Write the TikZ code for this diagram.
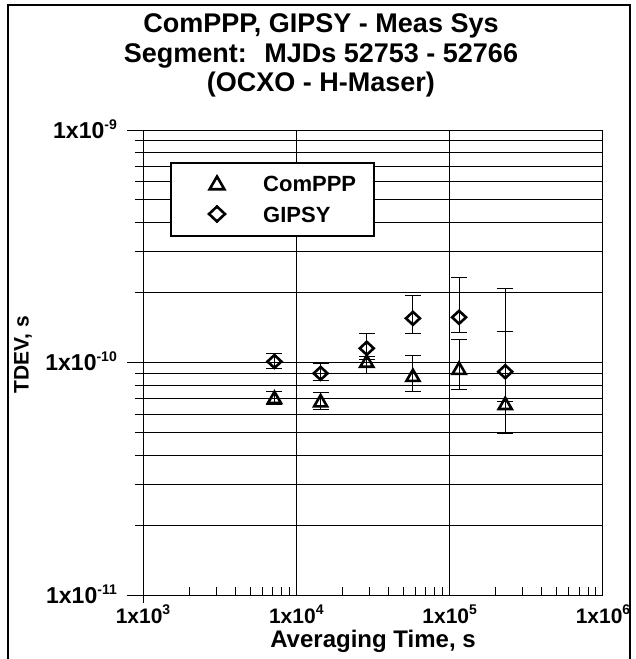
\documentclass[tikz,border=0pt]{standalone}
\usepackage{fontspec}
\setmainfont{Liberation Sans}
\usetikzlibrary{shapes.geometric}
\newcommand\ex[1]{\raisebox{9pt}{\fontsize{14}{14}\selectfont #1}}
\tikzset{
  grd/.style={line width=1pt},
  ebar/.style={line width=1pt},
  tri/.style={regular polygon, regular polygon sides=3, draw, line width=2.6pt, minimum size=15pt, inner sep=0pt},
  dia/.style={diamond, draw, line width=2.6pt, minimum width=15pt, minimum height=14pt, inner sep=0pt},
  ttl/.style={anchor=base, inner sep=0pt, font=\fontsize{27}{30}\selectfont\bfseries},
  lbl/.style={inner sep=0pt, font=\fontsize{21}{25}\selectfont\bfseries},
  leg/.style={anchor=base west, inner sep=0pt, font=\fontsize{22}{26}\selectfont\bfseries}
}
\begin{document}
\begin{tikzpicture}[x=1pt,y=-1pt]
\useasboundingbox (0,0) rectangle (635,659);
\draw[line width=2.7pt] (8,659) -- (8,5) -- (630,5) -- (630,659);
\node[ttl] (t1) at (321,32) {ComPPP, GIPSY - Meas Sys};
\node[ttl] (t2) at (321,62) {Segment: \ MJDs 52753 - 52766};
\node[ttl] (t3) at (321,91) {(OCXO - H-Maser)};
\begin{scope}[shift={(143,595)},x=153.33pt,y=232.5pt]
\foreach \d in {1,2,3} \draw[grd] (\d,0) -- (\d,2);
\draw[grd] (0,-0.034) -- (0,2);
\foreach \d in {0,1,2} \draw[grd] (-0.104,\d) -- (3,\d);
\foreach \d in {0,1} \foreach \m in {2,...,9}
  \draw[grd] (-0.052,{\d+log10(\m)}) -- (3,{\d+log10(\m)});
\foreach \d in {0,1,2} \foreach \m in {2,...,9}
  \draw[grd] ({\d+log10(\m)},0) -- ({\d+log10(\m)},0.034);
\foreach \t/\v/\lo/\hi [count=\i] in {7.2/10.1/9.44/10.88, 14.4/8.98/8.35/9.92,
    28.8/11.51/10.32/13.36, 57.6/15.49/13.27/19.38, 115.2/15.65/13.44/23.16, 230.4/9.13/6.78/20.85} {
  \draw[ebar] ({log10(\t)},{log10(\lo)}) -- ({log10(\t)},{log10(\hi)});
  \draw[ebar] ({log10(\t)-0.052},{log10(\lo)}) -- ++(0.104,0);
  \draw[ebar] ({log10(\t)-0.052},{log10(\hi)}) -- ++(0.104,0);
  \node[dia] (gp\i) at ({log10(\t)},{log10(\v)}) {};
}
\foreach \t/\v/\lo/\hi [count=\i] in {7.2/6.95/6.63/7.49, 14.4/6.72/6.31/7.44,
    28.8/9.95/8.98/10.59, 57.6/8.65/7.49/10.70, 115.2/9.28/7.67/12.62, 230.4/6.55/4.96/13.57} {
  \draw[ebar] ({log10(\t)},{log10(\lo)}) -- ({log10(\t)},{log10(\hi)});
  \draw[ebar] ({log10(\t)-0.052},{log10(\lo)}) -- ++(0.104,0);
  \draw[ebar] ({log10(\t)-0.052},{log10(\hi)}) -- ++(0.104,0);
  \node[tri] (cp\i) at ({log10(\t)},{log10(\v)}) {};
}
\end{scope}
\draw[line width=1.2pt,fill=white] (171,163) rectangle (374,236);
\node[tri,minimum size=17pt] (lt) at (217,185) {};
\node[dia,minimum width=17pt,minimum height=16pt] (ld) at (217,214) {};
\node[leg] (l1) at (263,191) {ComPPP};
\node[leg] (l2) at (263,222) {GIPSY};
\foreach \e/\yy [count=\i] in {-9/138,-10/370,-11/603}
  \node[lbl,anchor=base east,font=\fontsize{23}{27}\selectfont\bfseries] (yt\i) at (117,\yy) {1x10\ex{\e}};
\foreach \e/\xx [count=\i] in {3/143,4/296.3,5/449.7,6/603}
  \node[lbl,anchor=base] (xt\i) at (\xx,623) {1x10\ex{\e}};
\node[lbl,rotate=90] (ylab) at (23,355) {TDEV, s};
\node[lbl,anchor=base,font=\fontsize{24}{27}\selectfont\bfseries] (xlab) at (373,647) {Averaging Time, s};
\end{tikzpicture}
\end{document}
